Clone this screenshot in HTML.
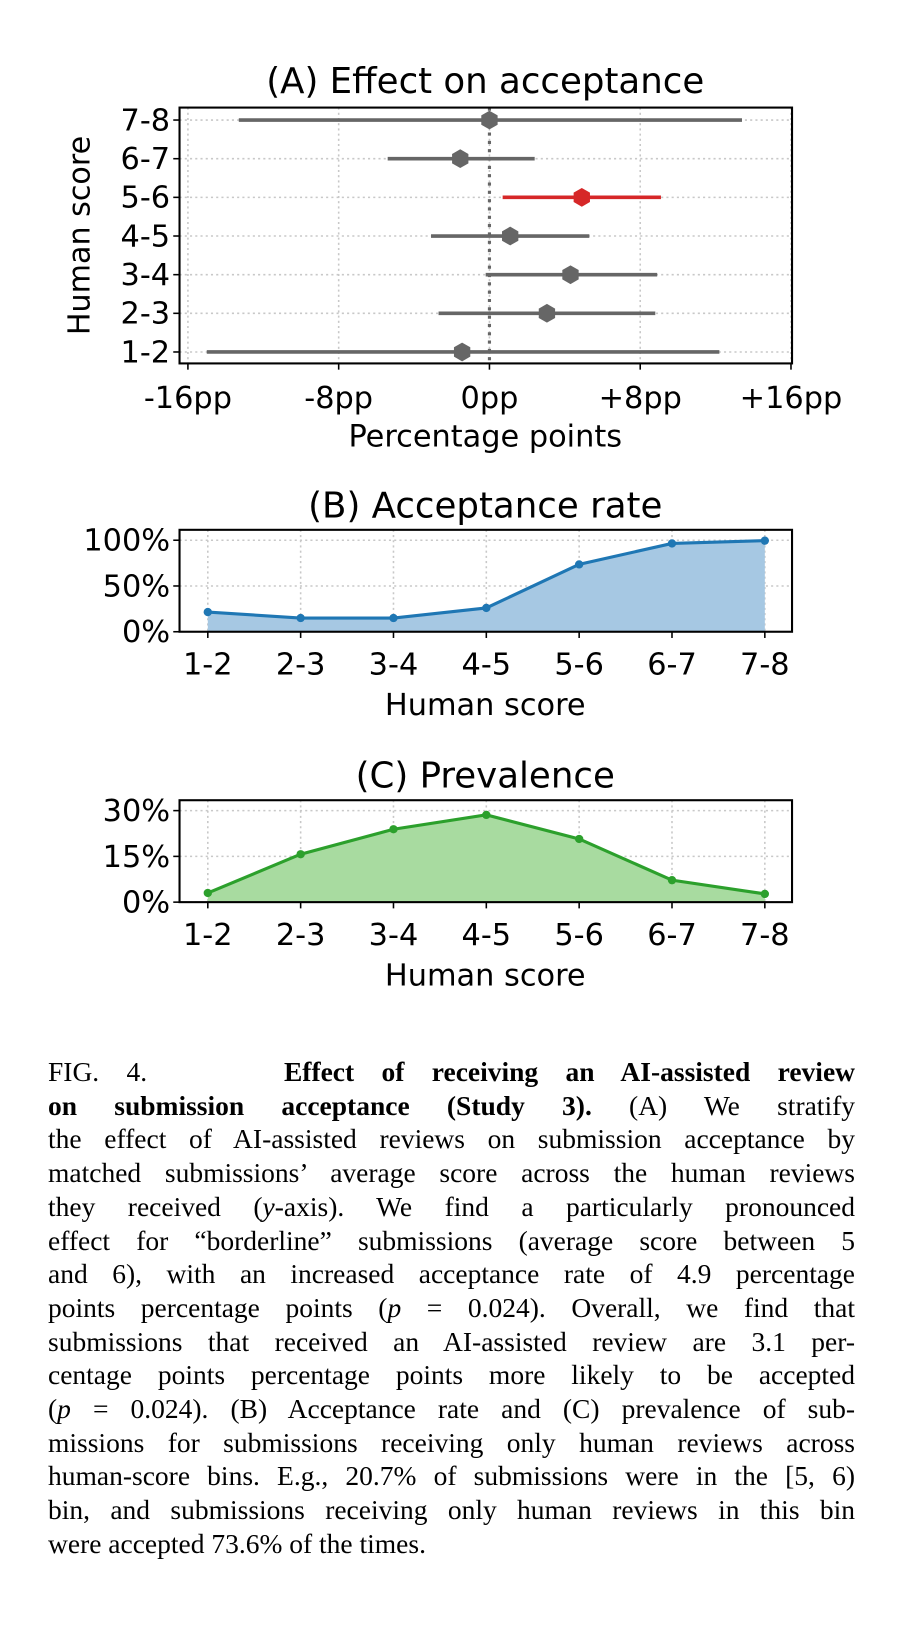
<!DOCTYPE html>
<html><head><meta charset="utf-8"><style>
body{margin:0;background:#fff;width:912px;height:1634px;position:relative;overflow:hidden}
svg{position:absolute;left:0;top:0}
svg text{font-family:"DejaVu Sans","Liberation Sans",sans-serif;fill:#000}
.cap{position:absolute;left:48px;width:807px;font-family:"Liberation Serif",serif;font-size:27.5px;line-height:33.7px;text-align:justify;text-align-last:justify;white-space:nowrap}
.cap.last{text-align-last:left}
</style></head><body>
<svg id="fig" width="912" height="1000" xmlns="http://www.w3.org/2000/svg"><g id="root" transform="matrix(1.047,0,0,1.04,0.5,1.5)"></g></svg>
<div>
<div class="cap" style="top:1055px">FIG. 4. &nbsp;&nbsp;&nbsp;&nbsp;<b>Effect of receiving an AI-assisted review</b></div>
<div class="cap" style="top:1088.7px"><b>on submission acceptance (Study 3).</b> (A) We stratify</div>
<div class="cap" style="top:1122.4px">the effect of AI-assisted reviews on submission acceptance by</div>
<div class="cap" style="top:1156.1px">matched submissions’ average score across the human reviews</div>
<div class="cap" style="top:1189.8px">they received (<i>y</i>-axis). We find a particularly pronounced</div>
<div class="cap" style="top:1223.5px">effect for “borderline” submissions (average score between 5</div>
<div class="cap" style="top:1257.2px">and 6), with an increased acceptance rate of 4.9 percentage</div>
<div class="cap" style="top:1290.9px">points percentage points (<i>p</i> = 0.024). Overall, we find that</div>
<div class="cap" style="top:1324.6px">submissions that received an AI-assisted review are 3.1 per-</div>
<div class="cap" style="top:1358.3px">centage points percentage points more likely to be accepted</div>
<div class="cap" style="top:1392px">(<i>p</i> = 0.024). (B) Acceptance rate and (C) prevalence of sub-</div>
<div class="cap" style="top:1425.7px">missions for submissions receiving only human reviews across</div>
<div class="cap" style="top:1459.4px">human-score bins. E.g., 20.7% of submissions were in the [5, 6)</div>
<div class="cap" style="top:1493.1px">bin, and submissions receiving only human reviews in this bin</div>
<div class="cap last" style="top:1526.8px">were accepted 73.6% of the times.</div>
</div>
<script>
const bins = ["1-2","2-3","3-4","4-5","5-6","6-7","7-8"];
const effCenter = [-1.45, 3.05, 4.3, 1.1, 4.9, -1.55, 0];
const effLo = [-15, -2.7, -0.2, -3.1, 0.7, -5.4, -13.3];
const effHi = [12.2, 8.8, 8.9, 5.3, 9.1, 2.4, 13.4];
const effTicks = [-16, -8, 0, 8, 16];
const effTickLabels = ["-16pp","-8pp","0pp","+8pp","+16pp"];
const accRate = [21.5, 15, 15, 26, 73.6, 96.5, 99.5];
const accTicks = [0, 50, 100];
const prevalence = [3, 15.7, 23.9, 28.6, 20.7, 7.2, 2.7];
const prevTicks = [0, 15, 30];

const root = document.getElementById('root');
const NS = 'http://www.w3.org/2000/svg';
const TF = 29, TT = 34;
function mk(tag, attrs, parent, name, txt){
  const e = document.createElementNS(NS, tag);
  for (const k in attrs) e.setAttribute(k, attrs[k]);
  
  
  if (txt !== undefined) e.textContent = txt;
  (parent || root).appendChild(e);
  return e;
}
const L = 171, R = 756;
const ax = v => 467 + v * 18;
const ay = i => 337 - i * 37.17;
const gA = mk('g', {}, root, 'panel-a');
mk('text', {x:463, y:88, 'font-size':TT, 'text-anchor':'middle'}, gA, 'panel-a-title', '(A) Effect on acceptance');
bins.forEach((b,i)=>{
  mk('line',{x1:L,x2:R,y1:ay(i),y2:ay(i),stroke:'#c8c8c8','stroke-width':1.5,'stroke-dasharray':'2,3'},gA,'grid-y');
});
effTicks.forEach((t,i)=>{
  mk('line',{x1:ax(t),x2:ax(t),y1:102,y2:348,stroke:'#c8c8c8','stroke-width':1.5,'stroke-dasharray':'2,3'},gA,'grid-x');
});
mk('line',{x1:ax(0),x2:ax(0),y1:102,y2:348,stroke:'#666','stroke-width':3,'stroke-dasharray':'3,5'},gA,'zero-line');
function hex(cx,cy,r){let p=[];for(let k=0;k<6;k++){const a=Math.PI/6+k*Math.PI/3;p.push((cx+r*Math.cos(a)).toFixed(1)+','+(cy+r*Math.sin(a)).toFixed(1));}return p.join(' ');}
bins.forEach((b,i)=>{
  const c = b==='5-6' ? '#d62728' : '#666';
  const row = mk('g',{},gA,'effect-row-'+b);
  mk('line',{x1:ax(effLo[i]),x2:ax(effHi[i]),y1:ay(i),y2:ay(i),stroke:c,'stroke-width':3.5},row,'ci-bar');
  mk('polygon',{points:hex(ax(effCenter[i]),ay(i),9),fill:c},row,'effect-point');
  mk('line',{x1:L-6,x2:L,y1:ay(i),y2:ay(i),stroke:'#000','stroke-width':1.5},row,'y-tick');
  mk('text',{x:L-9,y:ay(i)+10,'font-size':TF,'text-anchor':'end'},row,'y-tick-label',b);
});
mk('rect',{x:L,y:102,width:R-L,height:246,fill:'none',stroke:'#000','stroke-width':2},gA,'plot-frame');
effTicks.forEach((t,i)=>{
  mk('line',{x1:ax(t),x2:ax(t),y1:348,y2:354,stroke:'#000','stroke-width':1.5},gA,'x-tick');
  mk('text',{x:ax(t),y:391,'font-size':TF,'text-anchor':'middle'},gA,'x-tick-label',effTickLabels[i]);
});
mk('text',{x:463,y:428,'font-size':TF,'text-anchor':'middle'},gA,'x-axis-title','Percentage points');
mk('text',{x:0,y:0,'font-size':TF,'text-anchor':'middle',transform:'translate(85,225) rotate(-90)'},gA,'y-axis-title','Human score');

function areaPanel(name, title, top, vals, ticks, ymax, line, fill){
  const g = mk('g',{},root,name);
  const bot = top + 98;
  const px = i => 198 + i * 88.67;
  const py = v => bot - v / ymax * 88;
  mk('text',{x:463,y:top-12,'font-size':TT,'text-anchor':'middle'},g,name+'-title',title);
  bins.forEach((b,i)=>mk('line',{x1:px(i),x2:px(i),y1:top,y2:bot,stroke:'#c8c8c8','stroke-width':1.5,'stroke-dasharray':'2,3'},g,'grid-x'));
  ticks.forEach(t=>mk('line',{x1:L,x2:R,y1:py(t),y2:py(t),stroke:'#c8c8c8','stroke-width':1.5,'stroke-dasharray':'2,3'},g,'grid-y'));
  let d = 'M'+px(0)+','+bot;
  vals.forEach((v,i)=>d+=' L'+px(i)+','+py(v));
  d += ' L'+px(vals.length-1)+','+bot+' Z';
  mk('path',{d:d,fill:fill},g,'area-fill');
  mk('polyline',{points:vals.map((v,i)=>px(i)+','+py(v)).join(' '),fill:'none',stroke:line,'stroke-width':3},g,'series-line');
  vals.forEach((v,i)=>mk('circle',{cx:px(i),cy:py(v),r:4,fill:line},g,'point-'+bins[i]));
  mk('rect',{x:L,y:top,width:R-L,height:98,fill:'none',stroke:'#000','stroke-width':2},g,'plot-frame');
  ticks.forEach(t=>{
    mk('line',{x1:L-6,x2:L,y1:py(t),y2:py(t),stroke:'#000','stroke-width':1.5},g,'y-tick');
    mk('text',{x:L-9,y:py(t)+10,'font-size':TF,'text-anchor':'end'},g,'y-tick-label',t+'%');
  });
  bins.forEach((b,i)=>{
    mk('line',{x1:px(i),x2:px(i),y1:bot,y2:bot+6,stroke:'#000','stroke-width':1.5},g,'x-tick');
    mk('text',{x:px(i),y:bot+41,'font-size':TF,'text-anchor':'middle'},g,'x-tick-label',b);
  });
  mk('text',{x:463,y:bot+80,'font-size':TF,'text-anchor':'middle'},g,'x-axis-title','Human score');
}
areaPanel('panel-b','(B) Acceptance rate',508,accRate,accTicks,100,'#1f77b4','#a6c8e3');
areaPanel('panel-c','(C) Prevalence',768,prevalence,prevTicks,30,'#2ca02c','#a8dba0');
</script>
</body></html>
